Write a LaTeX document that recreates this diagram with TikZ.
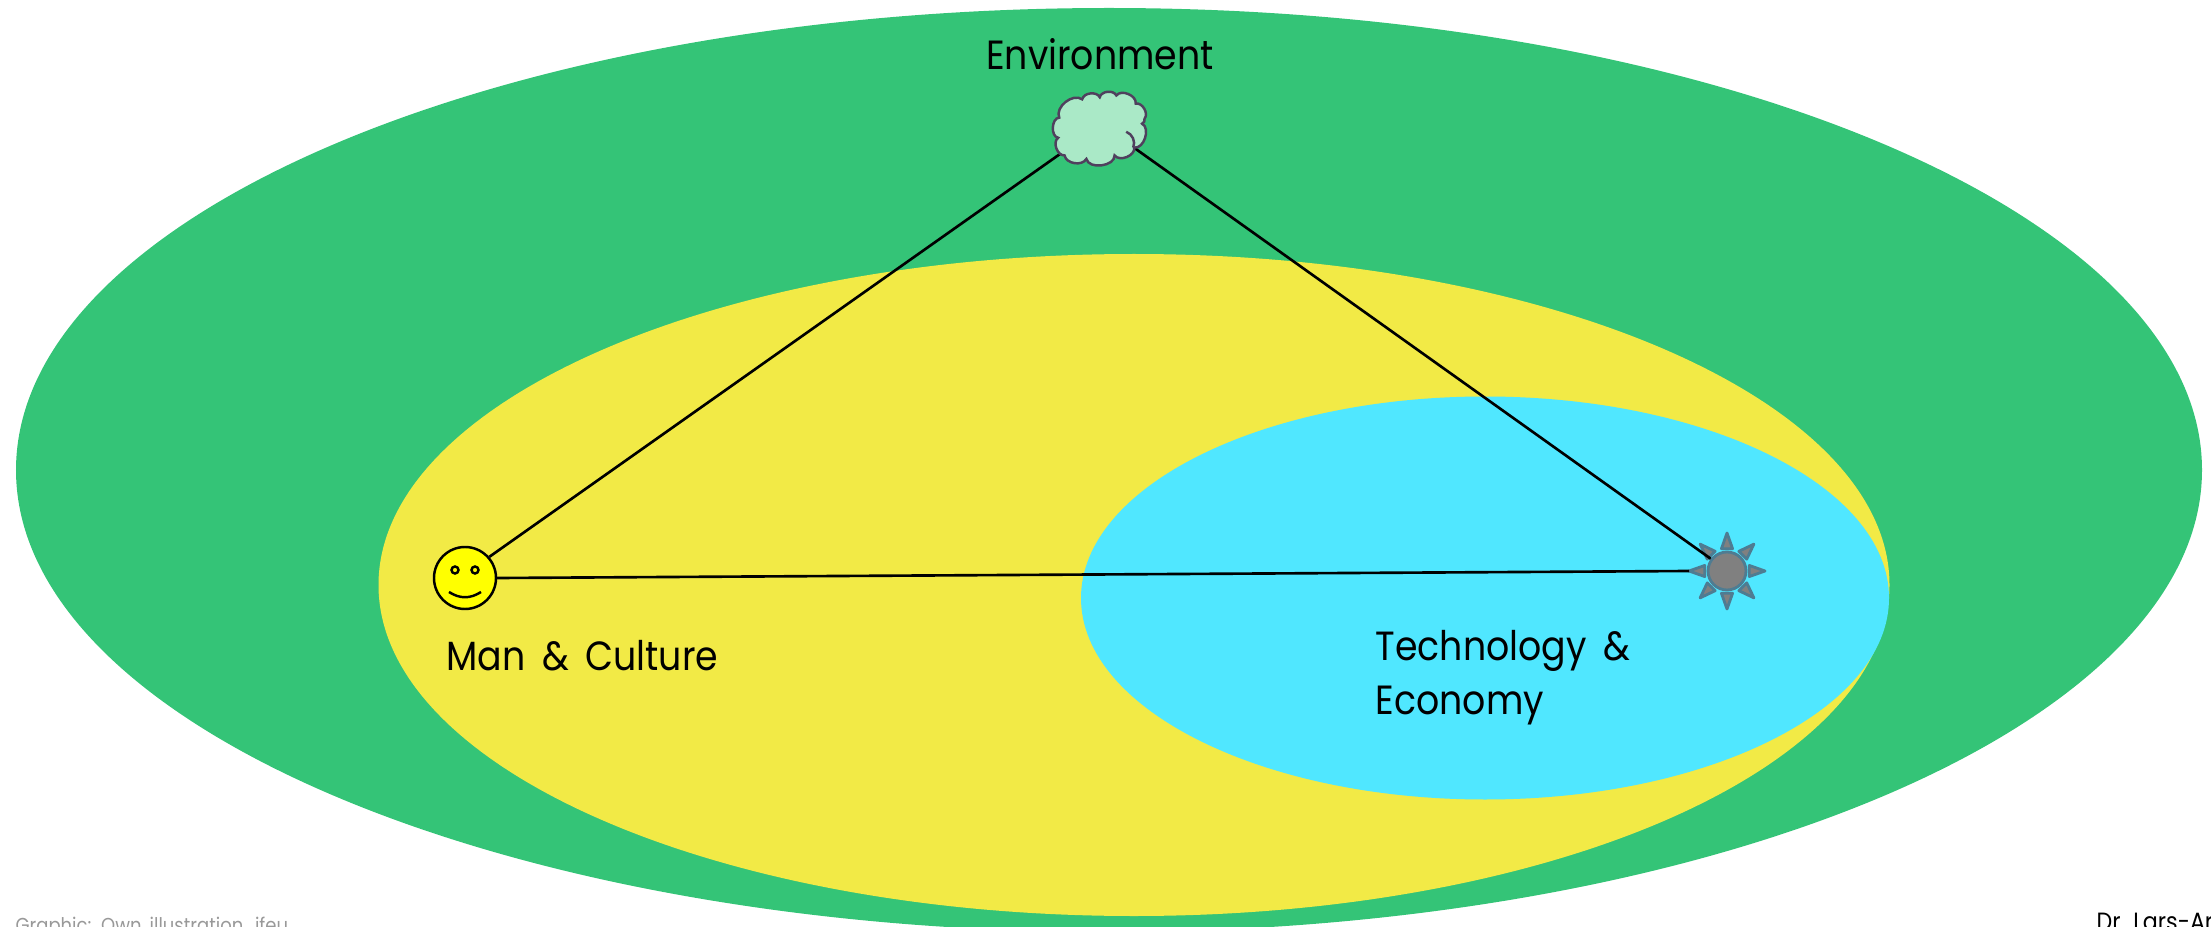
\documentclass[tikz,border=0pt]{standalone}
\usepackage{fontspec}
\setmainfont{Poppins}[FakeStretch=0.89, WordSpace=1.7]
\newfontfamily\authorfont{Poppins}[FakeStretch=0.89]
\usetikzlibrary{shapes.geometric, calc}
\definecolor{envcolor}{RGB}{52,196,119}
\definecolor{mancolor}{RGB}{242,234,70}
\definecolor{techcolor}{RGB}{80,231,255}
\definecolor{cloudcolor}{RGB}{170,233,199}
\definecolor{cloudedge}{RGB}{80,64,94}
\definecolor{sunedge}{RGB}{78,124,146}
\definecolor{smilecolor}{RGB}{255,255,0}
\tikzset{
    zone/.style={
        ellipse, inner sep=0pt, outer sep=0pt
    },
    label/.style={
        font=\fontsize{11.6}{14}\selectfont, inner sep=0pt, align=left
    },
    footer/.style={
        inner sep=0pt, anchor=base west
    },
    link/.style={line width=0.75pt, black},
    ray/.style={draw=sunedge, fill=gray, line width=0.8pt, line join=round},
    puff/.style={draw=cloudedge, line width=0.7pt}
}

\begin{document}
\begin{tikzpicture}

\useasboundingbox (0,0) rectangle (22.11,9.26);
\clip (0,0) rectangle (22.11,9.26);

% Nested zones
\node[zone, fill=envcolor, minimum width=21.86cm, minimum height=9.24cm] (envzone) at (11.09,4.56) {};
\node[zone, fill=mancolor, minimum width=15.11cm, minimum height=6.62cm] (manzone) at (11.34,3.41) {};
\node[zone, fill=techcolor, minimum width=8.08cm, minimum height=4.03cm] (techzone) at (14.85,3.28) {};

% Labels
\node[label, anchor=base] (envlabel) at (11.00,8.56) {Environment};
\node[label, anchor=base west] (manlabel) at (4.46,2.56) {Man \& Culture};
\node[label, anchor=base west] (techlabel) at (13.75,2.66) {Technology \&};
\node[label, anchor=base west] (econlabel) at (13.75,2.12) {Economy};

% Cloud anchors
\node[inner sep=0pt, minimum width=0.93cm, minimum height=0.77cm] (cloud) at (10.98,7.96) {};
\coordinate (cloudleft) at ($(cloud.center)+(-0.38,-0.24)$);
\coordinate (cloudright) at ($(cloud.center)+(0.35,-0.17)$);

% Smiley
\node[circle, draw=black, fill=smilecolor, line width=0.7pt, minimum size=0.62cm, inner sep=0pt] (smiley) at (4.65,3.48) {};
\node[circle, draw=black, line width=0.7pt, minimum size=0.07cm, inner sep=0pt] (eyeleft) at ($(smiley)+(-0.10,0.08)$) {};
\node[circle, draw=black, line width=0.7pt, minimum size=0.07cm, inner sep=0pt] (eyeright) at ($(smiley)+(0.10,0.08)$) {};
\draw[black, line width=0.7pt] ($(smiley)+(-0.16,-0.14)$) .. controls ($(smiley)+(-0.05,-0.21)$) and ($(smiley)+(0.05,-0.21)$) .. ($(smiley)+(0.16,-0.14)$);

% Sun
\node[circle, draw=sunedge, fill=gray, line width=0.8pt, minimum size=0.38cm, inner sep=0pt] (sun) at (17.27,3.55) {};
\foreach \a in {0,45,...,315} {
    \draw[ray] ($(sun)+(\a:0.38)$) coordinate (ray\a) -- ($(sun)+(\a-14:0.23)$) -- ($(sun)+(\a+14:0.23)$) -- cycle;
}

% Links
\draw[link] (cloudleft) -- (smiley.41);
\draw[link] (cloudright) -- (sun.143);
\draw[link] (smiley.east) -- (ray180);

% Cloud outline
\begin{scope}[shift={(cloud.center)}, x=0.00352cm, y=0.00352cm]
\draw[puff, fill=cloudcolor] (-110,35) to[bend left=75] (-45,87) to[bend left=70] (5,93) to[bend left=70] (52,98)
    to[bend left=75] (107,75) to[bend left=70] (132,32) to[bend left=40] (125,18) to[bend left=80] (103,-50)
    to[bend left=75] (47,-72) to[bend left=85] (-33,-82) to[bend left=70] (-95,-72) to[bend left=75] (-113,-22)
    to[bend left=85] cycle;
\draw[puff] (80,-5) to[bend left=45] (100,-50);
\end{scope}

% Footer
\node[footer, text=gray!80, font=\fontsize{5.75}{7}\selectfont] (source) at (0.15,-0.06) {Graphic: Own illustration, ifeu};
\node[footer, text=black, font=\authorfont\fontsize{7.1}{8.5}\selectfont] (author) at (20.96,-0.045) {Dr. Lars-Arv};

\end{tikzpicture}
\end{document}
